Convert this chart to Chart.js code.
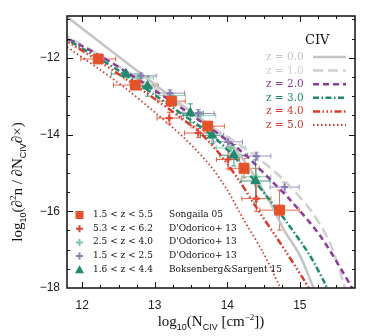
<!DOCTYPE html>
<html>
<head>
<meta charset="utf-8">
<script src="https://cdn.jsdelivr.net/npm/chart.js@4"></script>
<style>
  body { margin: 0; background: #fff; }
  #wrap { position: relative; width: 374px; height: 336px; }
  #wrap canvas { position: absolute; left: 0; top: 0; }
  .lbl { position: absolute; white-space: pre; font-family: "DejaVu Serif", serif; line-height: 1; }
  .ztxt { font-size: 10.5px; left: 265px; }
  .dtxt { font-size: 9px; color: #111; }
  .ttl { font-family: "Liberation Serif", "DejaVu Serif", serif; font-size: 15px; color: #111; }
  .ttl sub { font-size: 9px; font-family: "Liberation Sans", sans-serif; }
  .ttl sup { font-size: 9px; }
  svg { position: absolute; left: 0; top: 0; overflow: visible; }
</style>
</head>
<body>
<div id="wrap">
  <canvas id="cddf" width="374" height="336"></canvas>
  <svg id="keys" width="374" height="336"></svg>
  <div class="lbl" style="left:305px; top:33px; font-size:13px; color:#111;">CIV</div>
  <div class="lbl ttl" style="left:211px; top:313px; transform:translateX(-50%);">log<sub>10</sub>(N<sub>CIV</sub> [cm<sup>−2</sup>])</div>
  <div class="lbl ttl" style="left:18px; top:182px; transform:translate(-50%,-50%) rotate(-90deg);">log<sub>10</sub>(∂<sup>2</sup>n / ∂N<sub>CIV</sub>∂×)</div>
</div>
<script>
// --- axis ticks ---
const xTicks = [12, 13, 14, 15];
const yTicks = [-18, -16, -14, -12];

// --- model curves, one per redshift ---
const z0N = [11.7, 12.2, 12.8, 13.3, 13.85, 14.22, 14.59, 14.77, 15.0, 15.18, 15.3];
const z0F = [-10.8, -11.53, -12.4, -13.13, -13.9, -14.65, -15.77, -16.45, -17.15, -17.95, -18.4];
const z1N = [11.7, 12.2, 12.6, 13.0, 13.4, 13.8, 14.2, 14.45, 14.77, 15.14, 15.41, 15.6, 15.65];
const z1F = [-11.35, -11.88, -12.33, -12.8, -13.3, -13.82, -14.3, -14.65, -15.17, -15.95, -16.81, -17.85, -18.2];
const z2N = [11.7, 12.2, 12.6, 13.0, 13.4, 13.8, 14.2, 14.59, 14.86, 15.28, 15.69, 15.8];
const z2F = [-11.4, -11.9, -12.36, -12.85, -13.35, -13.88, -14.45, -15.17, -15.69, -16.64, -17.9, -18.3];
const z3N = [11.7, 12.2, 12.6, 13.0, 13.4, 13.8, 14.13, 14.54, 14.82, 15.14, 15.35, 15.42];
const z3F = [-11.42, -11.98, -12.45, -12.97, -13.5, -14.04, -14.65, -15.6, -16.29, -17.16, -17.9, -18.2];
const z4N = [11.7, 12.2, 12.6, 13.0, 13.4, 13.64, 13.9, 14.17, 14.4, 14.72, 15.05, 15.15];
const z4F = [-11.46, -12.05, -12.55, -13.07, -13.62, -13.98, -14.52, -15.22, -15.9, -16.8, -17.77, -18.1];
const z5N = [11.7, 12.2, 12.6, 13.0, 13.4, 13.76, 14.0, 14.22, 14.5, 14.72, 14.8];
const z5F = [-11.6, -12.25, -12.8, -13.42, -14.08, -14.8, -15.45, -16.2, -17.1, -17.95, -18.25];

// --- observations (value, half error in N, half error in f) ---
const songN = [12.22, 12.73, 13.23, 13.73, 14.23, 14.72];
const songF = [-12.03, -12.71, -13.13, -13.78, -14.88, -15.97];
const songdN = [0.24, 0.3, 0.19, 0.23, 0.21, 0.27];
const songdF = [0.05, 0.05, 0.06, 0.1, 0.25, 0.52];

const dod6N = [13.2, 13.6, 14.01, 14.4];
const dod6F = [-13.57, -13.96, -14.65, -15.67];
const dod6dN = [0.17, 0.19, 0.16, 0.2];
const dod6dF = [0.15, 0.12, 0.25, 0.33];

const dod3N = [12.78, 13.22, 13.62, 14.05, 14.4];
const dod3F = [-12.52, -12.98, -13.5, -14.35, -15.1];
const dod3dN = [0.2, 0.2, 0.22, 0.2, 0.2];
const dod3dF = [0.06, 0.08, 0.1, 0.15, 0.2];

const dod2N = [12.81, 13.21, 13.6, 14.01, 14.4, 14.79];
const dod2F = [-12.47, -12.92, -13.45, -14.19, -14.56, -15.37];
const dod2dN = [0.21, 0.2, 0.22, 0.2, 0.2, 0.2];
const dod2dF = [0.07, 0.08, 0.1, 0.12, 0.1, 0.13];

const bokN = [12.6, 12.9, 13.49, 13.79, 14.09, 14.39];
const bokF = [-12.42, -12.74, -13.44, -14.02, -14.54, -15.21];
const bokdN = [0.2, 0.15, 0.18, 0.16, 0.19, 0.2];
const bokdF = [0.05, 0.26, 0.24, 0.22, 0.28, 0.55];

const pts = (xs, ys) => xs.map((v, i) => ({ x: v, y: ys[i] }));

function curve(xs, ys, color, dash, width) {
    return {
        data: pts(xs, ys), showLine: true, pointRadius: 0, borderColor: color,
        borderWidth: width || 2.5, borderDash: dash, tension: 0.3, clip: 0, fill: false
    };
}

function obs(xs, ys, dx, dy, color, style, r, extra) {
    return Object.assign({
        data: pts(xs, ys), showLine: false, pointStyle: style, pointRadius: r,
        backgroundColor: color, borderColor: color, borderWidth: 1,
        errN: dx, errF: dy, errColor: color
    }, extra || {});
}

const colors = {
    z0: '#c4c4c4', z1: '#d0d0d0', z2: '#8e3a98', z3: '#1d8a6c', z4: '#da3b2c', z5: '#cf3a33',
    song: '#e4522b', dod6: '#e0452f', dod3: '#7cc6a2', dod2: '#8c7cb6', bok: '#1f8a6e'
};

// --- error bars + frame with inward ticks ---
const errorBars = {
    id: 'errorBars',
    beforeDatasetsDraw(chart) {
        const { ctx, chartArea: a, scales: { x, y } } = chart;
        ctx.save();
        ctx.beginPath();
        ctx.rect(a.left, a.top, a.right - a.left, a.bottom - a.top);
        ctx.clip();
        chart.data.datasets.forEach(ds => {
            if (!ds.errN) return;
            ctx.strokeStyle = ds.errColor;
            ctx.globalAlpha = 0.85;
            ctx.lineWidth = 1;
            ds.data.forEach((p, i) => {
                const px = x.getPixelForValue(p.x), py = y.getPixelForValue(p.y);
                const x0 = x.getPixelForValue(p.x - ds.errN[i]), x1 = x.getPixelForValue(p.x + ds.errN[i]);
                const y0 = y.getPixelForValue(p.y - ds.errF[i]), y1 = y.getPixelForValue(p.y + ds.errF[i]);
                const c = 2.5;
                ctx.beginPath();
                ctx.moveTo(x0, py); ctx.lineTo(x1, py);
                ctx.moveTo(px, y0); ctx.lineTo(px, y1);
                ctx.moveTo(x0, py - c); ctx.lineTo(x0, py + c);
                ctx.moveTo(x1, py - c); ctx.lineTo(x1, py + c);
                ctx.moveTo(px - c, y0); ctx.lineTo(px + c, y0);
                ctx.moveTo(px - c, y1); ctx.lineTo(px + c, y1);
                ctx.stroke();
            });
        });
        ctx.restore();
    }
};

const frame = {
    id: 'frame',
    afterDraw(chart) {
        const { ctx, chartArea: a, scales: { x, y } } = chart;
        ctx.save();
        ctx.strokeStyle = '#111';
        ctx.lineWidth = 1;
        ctx.beginPath();
        for (let v = 11.75; v <= 15.76; v += 0.25) {
            const px = Math.round(x.getPixelForValue(v)) + 0.5;
            if (px < a.left + 1 || px > a.right - 1) continue;
            const len = Math.abs(v - Math.round(v)) < 0.01 ? 6 : 3;
            ctx.moveTo(px, a.bottom); ctx.lineTo(px, a.bottom - len);
            ctx.moveTo(px, a.top); ctx.lineTo(px, a.top + len);
        }
        for (let v = -18; v <= -10.9; v += 0.5) {
            const py = Math.round(y.getPixelForValue(v)) + 0.5;
            if (py < a.top + 1 || py > a.bottom - 1) continue;
            const len = Math.abs(v / 2 - Math.round(v / 2)) < 0.01 ? 6 : 3;
            ctx.moveTo(a.left, py); ctx.lineTo(a.left + len, py);
            ctx.moveTo(a.right, py); ctx.lineTo(a.right - len, py);
        }
        ctx.stroke();
        ctx.lineWidth = 1.5;
        ctx.strokeRect(a.left, a.top, a.right - a.left, a.bottom - a.top);
        ctx.restore();
    }
};

new Chart(document.getElementById('cddf'), {
    type: 'scatter',
    data: {
        datasets: [
            obs(songN, songF, songdN, songdF, colors.song, 'rect', 7),
            obs(bokN, bokF, bokdN, bokdF, colors.bok, 'triangle', 5.5),
            obs(dod6N, dod6F, dod6dN, dod6dF, colors.dod6, 'cross', 3.5, { borderWidth: 2.2 }),
            obs(dod2N, dod2F, dod2dN, dod2dF, colors.dod2, 'cross', 3.5, { borderWidth: 2.2 }),
            obs(dod3N, dod3F, dod3dN, dod3dF, colors.dod3, 'cross', 3.5, { borderWidth: 2.2 }),
            curve(z5N, z5F, colors.z5, [1.5, 2.5], 1.8),
            curve(z4N, z4F, colors.z4, [7, 2.5, 1.5, 2.5, 1.5, 2.5, 1.5, 2.5]),
            curve(z3N, z3F, colors.z3, [6, 2.5, 1.5, 2.5]),
            curve(z2N, z2F, colors.z2, [6, 4]),
            curve(z1N, z1F, colors.z1, [10, 5]),
            curve(z0N, z0F, colors.z0, [])
        ]
    },
    options: {
        responsive: false,
        animation: false,
        layout: { padding: { top: 16, right: 19, left: 0, bottom: 0 } },
        plugins: { legend: { display: false }, tooltip: { enabled: false } },
        scales: {
            x: {
                type: 'linear', min: 11.79, max: 15.76,
                grid: { display: false, drawTicks: false },
                border: { display: false },
                ticks: { color: '#222', padding: 10, font: { family: 'Liberation Sans', size: 12 } },
                afterBuildTicks: s => { s.ticks = xTicks.map(v => ({ value: v })); },
                afterFit: s => { s.height = 48; }
            },
            y: {
                type: 'linear', min: -18, max: -10.91,
                grid: { display: false, drawTicks: false },
                border: { display: false },
                ticks: {
                    color: '#222', padding: 7, font: { family: 'Liberation Sans', size: 12 },
                    callback: v => '−' + Math.abs(v)
                },
                afterBuildTicks: s => { s.ticks = yTicks.map(v => ({ value: v })); },
                afterFit: s => { s.width = 67; }
            }
        }
    },
    plugins: [errorBars, frame]
});

// --- legends (HTML text, SVG keys) ---
const wrap = document.getElementById('wrap');
const keys = document.getElementById('keys');
const NS = 'http://www.w3.org/2000/svg';

function svgEl(tag, attrs) {
    const el = document.createElementNS(NS, tag);
    Object.keys(attrs).forEach(k => el.setAttribute(k, attrs[k]));
    keys.appendChild(el);
}

function text(cls, x, y, str, color) {
    const d = document.createElement('div');
    d.className = 'lbl ' + cls;
    d.style.left = x + 'px';
    d.style.top = y + 'px';
    d.style.color = color;
    d.textContent = str;
    wrap.appendChild(d);
}

const zRows = [
    ['z = 0.0', colors.z0, '', 2.5],
    ['z = 1.0', colors.z1, '10 5', 2.5],
    ['z = 2.0', colors.z2, '6 4', 2.5],
    ['z = 3.0', colors.z3, '6 2.5 1.5 2.5', 2.5],
    ['z = 4.0', colors.z4, '7 2.5 1.5 2.5 1.5 2.5 1.5 2.5', 2.5],
    ['z = 5.0', colors.z5, '1.5 2.5', 1.8]
];
zRows.forEach((r, i) => {
    const cy = 57 + i * 13.6;
    text('ztxt', 266, cy - 6, r[0], r[1]);
    svgEl('line', { x1: 313, x2: 346, y1: cy, y2: cy, stroke: r[1], 'stroke-width': r[3], 'stroke-dasharray': r[2] });
});

const dRows = [
    ['1.5 < z < 5.5', 'Songaila 05', colors.song, 'rect'],
    ['5.3 < z < 6.2', "D'Odorico+ 13", colors.dod6, 'cross'],
    ['2.5 < z < 4.0', "D'Odorico+ 13", colors.dod3, 'cross'],
    ['1.5 < z < 2.5', "D'Odorico+ 13", colors.dod2, 'cross'],
    ['1.6 < z < 4.4', 'Boksenberg&Sargent 15', colors.bok, 'tri']
];
dRows.forEach((r, i) => {
    const cy = 215 + i * 13.7;
    text('dtxt', 93, cy - 5, r[0], '#111');
    text('dtxt', 169, cy - 5, r[1], '#111');
    const mx = 79.5;
    if (r[3] === 'rect') {
        svgEl('rect', { x: mx - 4, y: cy - 4, width: 8, height: 8, fill: r[2] });
    } else if (r[3] === 'tri') {
        svgEl('polygon', { points: `${mx - 4.5},${cy + 3.5} ${mx + 4.5},${cy + 3.5} ${mx},${cy - 4.5}`, fill: r[2] });
    } else {
        svgEl('path', { d: `M${mx - 3.5},${cy}H${mx + 3.5}M${mx},${cy - 3.5}V${cy + 3.5}`, stroke: r[2], 'stroke-width': 2 });
    }
});
</script>
</body>
</html>
